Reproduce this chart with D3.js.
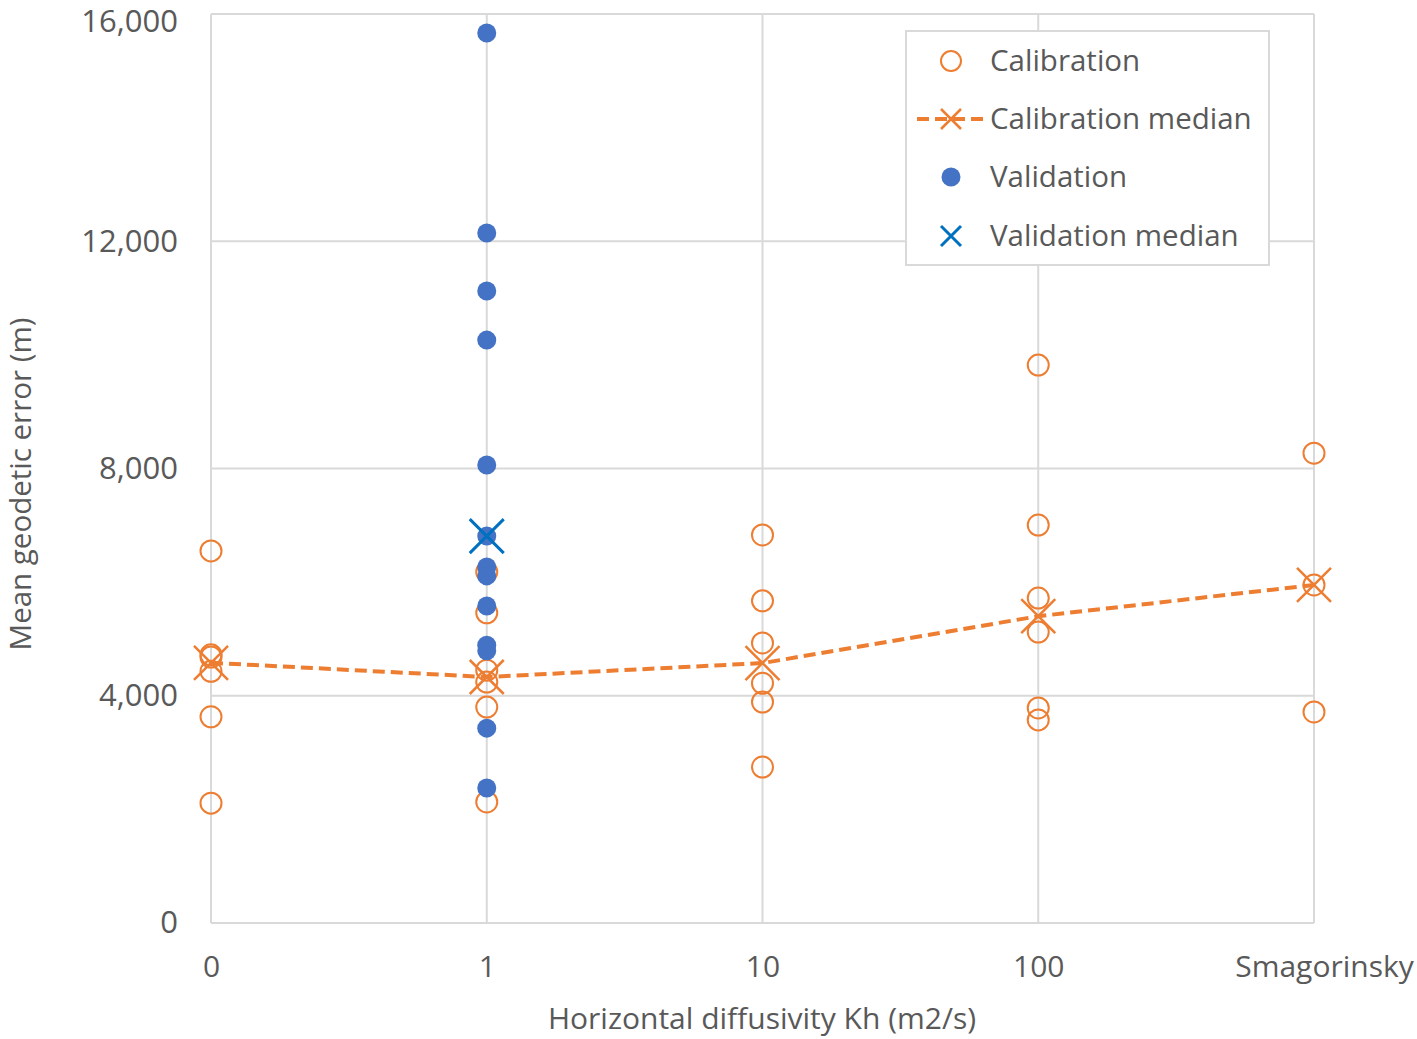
<!DOCTYPE html>
<html>
<head>
<meta charset="utf-8">
<script src="https://cdn.jsdelivr.net/npm/d3@7"></script>
<style>
  body { margin: 0; background: #fff; }
  text { font-family: "Open Sans", sans-serif; fill: #595959; }
</style>
</head>
<body>
<div id="chart"></div>
<script>
const categories = ["0", "1", "10", "100", "Smagorinsky"];
const yTicks = [0, 4000, 8000, 12000, 16000];

// calibration runs per diffusivity setting
const calibration0 = [6550, 4720, 4680, 4430, 3630, 2110];
const calibration1 = [6180, 5460, 4450, 4240, 3800, 2130];
const calibration10 = [6830, 5670, 4930, 4220, 3890, 2745];
const calibration100 = [9820, 7005, 5720, 5120, 3785, 3575];
const calibrationSmag = [8270, 5950, 3715];
const calibrationMedian = [4580, 4330, 4575, 5400, 5950];

// validation only run at Kh = 1
const validation1 = [15665, 12145, 11125, 10260, 8060, 6810, 6265, 6110, 5580, 4890, 4790, 3430, 2375];
const validationMedian = 6810;

const Width = 1417;
const Height = 1039;
const orange = "#ED7D31";
const blue = "#4472C4";
const darkBlue = "#0070C0";
const grid = "#d9d9d9";

const calib = [calibration0, calibration1, calibration10, calibration100, calibrationSmag]
  .flatMap((vals, i) => vals.map((v) => ({ cat: categories[i], v })));

const x = d3.scalePoint().domain(categories).range([211, 1314]);
const y = d3.scaleLinear().domain([0, 16000]).range([923, 14]);

const svg = d3
  .select("#chart")
  .append("svg")
  .attr("width", Width)
  .attr("height", Height);

// grid
svg
  .append("g")
  .selectAll("line")
  .data(yTicks)
  .join("line")
  .attr("x1", x.range()[0])
  .attr("x2", x.range()[1])
  .attr("y1", (d) => y(d))
  .attr("y2", (d) => y(d))
  .attr("stroke", grid)
  .attr("stroke-width", 2);

svg
  .append("g")
  .selectAll("line")
  .data(categories)
  .join("line")
  .attr("x1", (d) => x(d))
  .attr("x2", (d) => x(d))
  .attr("y1", y(0))
  .attr("y2", y(16000))
  .attr("stroke", grid)
  .attr("stroke-width", 2);

// axes labels
const yAxis = svg
  .append("g")
  .attr("transform", `translate(${x.range()[0]},0)`)
  .call(d3.axisLeft(y).tickValues(yTicks).tickSize(0).tickPadding(33).tickFormat(d3.format(",")));
yAxis.select(".domain").remove();
yAxis.selectAll("text").style("font-size", "31px").style("font-family", "Open Sans").attr("fill", "#595959");
yAxis.selectAll(".tick").filter((d) => d === 16000).select("text").attr("dy", "0.55em");

const xAxis = svg
  .append("g")
  .attr("transform", `translate(0,${y(0)})`)
  .call(d3.axisBottom(x).tickSize(0).tickPadding(33));
xAxis.select(".domain").remove();
xAxis.selectAll("text").style("font-size", "30px").style("font-family", "Open Sans").attr("fill", "#595959");
xAxis.selectAll(".tick").filter((d) => d === "Smagorinsky").select("text").attr("dx", 10);

svg
  .append("text")
  .attr("x", 762)
  .attr("y", 1029)
  .attr("text-anchor", "middle")
  .style("font-size", "30px")
  .text("Horizontal diffusivity Kh (m2/s)");

svg
  .append("text")
  .attr("transform", `translate(31,484) rotate(-90)`)
  .attr("text-anchor", "middle")
  .style("font-size", "29.5px")
  .text("Mean geodetic error (m)");

// calibration points
svg
  .append("g")
  .selectAll("circle")
  .data(calib)
  .join("circle")
  .attr("cx", (d) => x(d.cat))
  .attr("cy", (d) => y(d.v))
  .attr("r", 10.5)
  .attr("fill", "none")
  .attr("stroke", orange)
  .attr("stroke-width", 2);

// calibration median line + crosses
const line = d3
  .line()
  .x((d, i) => x(categories[i]))
  .y((d) => y(d));

svg
  .append("path")
  .datum(calibrationMedian)
  .attr("d", line)
  .attr("fill", "none")
  .attr("stroke", orange)
  .attr("stroke-width", 4)
  .attr("stroke-dasharray", "12,6");

function cross(g, cx, cy, s, color, w) {
  g.append("path")
    .attr("d", `M${cx - s},${cy - s}L${cx + s},${cy + s}M${cx - s},${cy + s}L${cx + s},${cy - s}`)
    .attr("stroke", color)
    .attr("stroke-width", w)
    .attr("fill", "none");
}

const medG = svg.append("g");
calibrationMedian.forEach((v, i) => cross(medG, x(categories[i]), y(v), 17, orange, 2.5));

// validation points
svg
  .append("g")
  .selectAll("circle")
  .data(validation1)
  .join("circle")
  .attr("cx", x("1"))
  .attr("cy", (d) => y(d))
  .attr("r", 9.5)
  .attr("fill", blue);

cross(svg.append("g"), x("1"), y(validationMedian), 17, darkBlue, 3);

// legend
const lg = svg.append("g");
lg.append("rect")
  .attr("x", 906)
  .attr("y", 31)
  .attr("width", 363)
  .attr("height", 234)
  .attr("fill", "#fff")
  .attr("stroke", grid)
  .attr("stroke-width", 2);

const legendItems = ["Calibration", "Calibration median", "Validation", "Validation median"];
const rowY = [61, 119, 177, 236];
const mx = 951;

legendItems.forEach((name, i) => {
  lg.append("text")
    .attr("x", 990)
    .attr("y", rowY[i])
    .attr("dy", "0.35em")
    .style("font-size", "29.5px")
    .text(name);
});

lg.append("circle").attr("cx", mx).attr("cy", rowY[0]).attr("r", 10).attr("fill", "none").attr("stroke", orange).attr("stroke-width", 2);
lg.append("line")
  .attr("x1", 917).attr("x2", 984).attr("y1", rowY[1]).attr("y2", rowY[1])
  .attr("stroke", orange).attr("stroke-width", 4).attr("stroke-dasharray", "12,6");
cross(lg, mx, rowY[1], 10, orange, 2.5);
lg.append("circle").attr("cx", mx).attr("cy", rowY[2]).attr("r", 9.5).attr("fill", blue);
cross(lg, mx, rowY[3], 10, darkBlue, 3);
</script>
</body>
</html>
